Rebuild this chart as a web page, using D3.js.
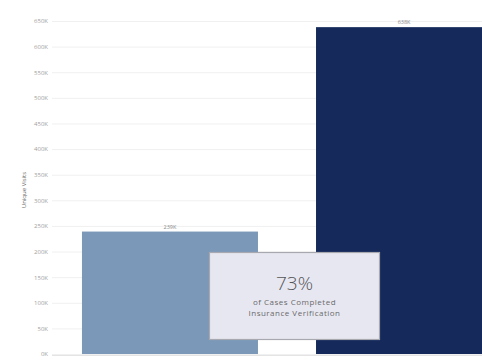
<!DOCTYPE html>
<html>
<head>
<meta charset="utf-8">
<script src="https://cdn.jsdelivr.net/npm/d3@7"></script>
<style>
  html, body { margin: 0; padding: 0; background: #fff; }
  svg { display: block; }
</style>
</head>
<body>
<svg id="chart" width="482" height="361"></svg>
<script>
// Unique visits by group
const categories = ["Not Verified", "Verified"];
const visits = [239000, 638000];
const barLabels = ["239K", "638K"];
const tickValues = [0, 50000, 100000, 150000, 200000, 250000, 300000, 350000, 400000, 450000, 500000, 550000, 600000, 650000];
const barColors = ["#7b98b8", "#15295a"];
const calloutPct = "73%";
const calloutLines = ["of Cases Completed", "Insurance Verification"];

const svg = d3.select("#chart");
const W = 482, H = 361;
const FONT = "'Open Sans', sans-serif";

const y = d3.scaleLinear().domain([0, 650000]).range([354, 21]);
const x = d3.scaleBand().domain(categories).range([52, 522])
  .paddingInner(0.248).paddingOuter(0.128);

// gridlines
svg.append("g").selectAll("line").data(tickValues).join("line")
  .attr("x1", 52).attr("x2", W)
  .attr("y1", d => y(d) + 0.5).attr("y2", d => y(d) + 0.5)
  .attr("stroke", "#f0f0f0").attr("stroke-width", 1);

// y axis tick labels
const yAxis = d3.axisLeft(y).tickValues(tickValues)
  .tickFormat(d => (d / 1000) + "K").tickSize(0).tickPadding(4);
const gy = svg.append("g").attr("transform", "translate(52,0)").call(yAxis);
gy.select(".domain").remove();
gy.selectAll("text").attr("fill", "#a0a0a0").style("font-family", FONT).style("font-size", "6px");

// axis title
svg.append("text")
  .attr("transform", "translate(26," + y(320000) + ") rotate(-90)")
  .attr("text-anchor", "middle")
  .attr("fill", "#666").style("font-family", FONT).style("font-size", "6px")
  .text("Unique Visits");

// bars
svg.append("g").selectAll("rect").data(categories).join("rect")
  .attr("x", d => x(d))
  .attr("y", (d, i) => y(visits[i]))
  .attr("width", x.bandwidth())
  .attr("height", (d, i) => y(0) - y(visits[i]))
  .attr("fill", (d, i) => barColors[i]);

// value labels
svg.append("g").selectAll("text").data(categories).join("text")
  .attr("x", d => x(d) + x.bandwidth() / 2)
  .attr("y", (d, i) => y(visits[i]) - 3)
  .attr("text-anchor", "middle")
  .attr("fill", "#888").style("font-family", FONT).style("font-size", "5.5px")
  .text((d, i) => barLabels[i]);

// baseline
svg.append("line").attr("x1", 52).attr("x2", W).attr("y1", 355.5).attr("y2", 355.5)
  .attr("stroke", "#e4e4e4");

// callout box
const box = svg.append("g");
box.append("rect").attr("x", 209.5).attr("y", 252.5).attr("width", 170).attr("height", 87)
  .attr("fill", "#e7e7f1").attr("stroke", "#a8a8b0").attr("stroke-width", 1.2);
box.append("text").attr("x", 294.5).attr("y", 290)
  .attr("text-anchor", "middle").attr("fill", "#555")
  .style("font-family", FONT).style("font-weight", 300).style("font-size", "19px")
  .text(calloutPct);
box.selectAll("text.sub").data(calloutLines).join("text").attr("class", "sub")
  .attr("x", 294.5).attr("y", (d, i) => 305 + i * 11)
  .attr("text-anchor", "middle").attr("fill", "#6a6a6a")
  .style("font-family", FONT).style("font-size", "8px").style("letter-spacing", "0.5px")
  .text(d => d);
</script>
</body>
</html>
